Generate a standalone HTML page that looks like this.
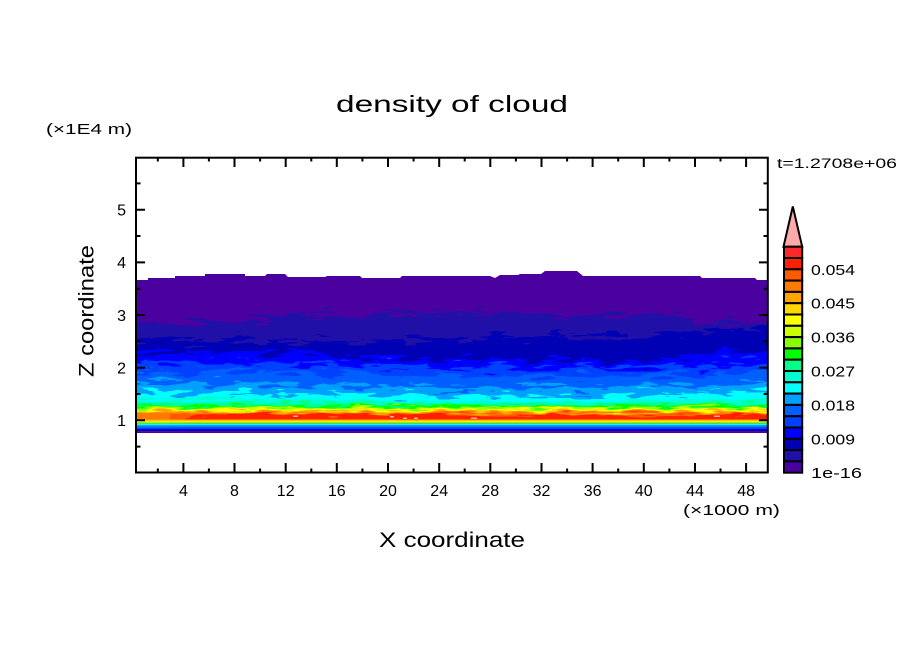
<!DOCTYPE html>
<html><head><meta charset="utf-8"><style>
html,body{margin:0;padding:0;background:#fff;width:904px;height:654px;overflow:hidden}
svg{display:block}
text{font-family:"Liberation Sans",sans-serif;fill:#000}
</style></head><body>
<svg width="904" height="654" viewBox="0 0 904 654" xmlns="http://www.w3.org/2000/svg">
<defs>
<clipPath id="env"><path d="M136,280 L148,280 L148,278 L175,278 L175,276 L205,276 L205,274 L245,274 L245,276 L265,276 L267,274 L285,274 L288,277 L325,277 L327,276 L360,276 L362,278 L400,278 L402,276 L490,276 L495,278 L500,275 L518,275 L520,274 L541,274 L545,271 L577,271 L583,276 L700,276 L702,278 L755,278 L757,280 L768,280 L768,433 L136,433 Z"/></clipPath>
<filter id="fu" filterUnits="userSpaceOnUse" x="90" y="250" width="730" height="200" color-interpolation-filters="sRGB">
<feTurbulence type="fractalNoise" baseFrequency="0.035 0.22" numOctaves="3" seed="7" result="n"/>
<feColorMatrix in="n" type="matrix" values="0 0 0 0 0.5  0 1 0 0 0  0 0 0 0 0  0 0 0 0 1" result="m"/>
<feDisplacementMap in="SourceGraphic" in2="m" scale="26" xChannelSelector="R" yChannelSelector="G"/>
</filter>
<filter id="fl" filterUnits="userSpaceOnUse" x="90" y="250" width="730" height="200" color-interpolation-filters="sRGB">
<feTurbulence type="fractalNoise" baseFrequency="0.04 0.3" numOctaves="2" seed="3" result="n"/>
<feColorMatrix in="n" type="matrix" values="0 0 0 0 0.5  0 1 0 0 0  0 0 0 0 0  0 0 0 0 1" result="m"/>
<feDisplacementMap in="SourceGraphic" in2="m" scale="12" xChannelSelector="R" yChannelSelector="G"/>
</filter>
</defs>

<g clip-path="url(#env)">
<rect x="130" y="260" width="645" height="180" fill="#4b00a0"/>
<g filter="url(#fu)">
<path fill="#2010a8" d="M100,323 L227,323 L250,320 L275,316 L290,315 L400,315 L402,312 L500,312 L550,314 L560,315 L680,315 L690,318 L700,323 L800,323 V440 H100Z"/>
<path fill="#0000b4" d="M100,339 L230,340 L260,343 L300,342 L350,341 L450,339 L520,337 L600,336 L650,336 L700,332 L720,330 L800,330 V440 H100Z"/>
<path fill="#0000ff" d="M100,353 L230,353 L300,351 L340,358 L450,360 L600,360 L650,361 L700,355 L740,351 L800,351 V440 H100Z"/>
<path fill="#0040ff" d="M100,362 L300,364 L450,367 L600,368 L700,366 L800,360 V440 H100Z"/>
<path fill="#0060ff" d="M100,371 L300,373 L450,376 L600,377 L700,375 L800,370 V440 H100Z"/>
<path fill="#00a0ff" d="M100,382 L300,385 L450,388 L600,388 L700,385 L800,380 V440 H100Z"/>
<path fill="#00ffff" d="M100,392 L300,394 L450,396 L600,396 L700,393 L800,389 V440 H100Z"/>
</g>
<g filter="url(#fl)">
<path fill="#00ffd0" d="M100,399 L300,399 L450,401 L600,400 L700,399 L800,397 V440 H100Z"/>
<path fill="#00ff88" d="M100,403 L300,403 L450,404 L600,403 L700,403 L800,402 V440 H100Z"/>
<path fill="#00ff00" d="M100,405.5 L800,405.5 V440 H100Z"/>
<path fill="#88ff00" d="M100,407 L800,407 V440 H100Z"/>
<path fill="#ccff00" d="M100,408.5 L800,408.5 V440 H100Z"/>
<path fill="#ffff00" d="M100,409.5 L800,409.5 V440 H100Z"/>
<path fill="#ffd700" d="M100,410.5 L800,410.5 V440 H100Z"/>
<path fill="#ffa500" d="M100,411.5 L800,411.5 V440 H100Z"/>
<path fill="#ff7a00" d="M100,412.5 L800,412.5 V440 H100Z"/>
<path fill="#ff5a00" d="M170,414 L800,413.5 V440 H170Z"/>
<path fill="#ff2000" d="M185,417 L200,414.5 L330,414.5 L345,416 L360,414.5 L470,414.5 L490,417 L530,416 L545,414 L610,414.5 L640,416.5 L690,416 L705,414 L800,414 V440 H185 Z"/>
</g>
<rect x="130" y="419.5" width="645" height="1" fill="#ffa500"/>
<rect x="130" y="420.5" width="645" height="1" fill="#ffd700"/>
<rect x="130" y="421.5" width="645" height="0.8" fill="#ffff00"/>
<rect x="130" y="422.3" width="645" height="0.9" fill="#88ff00"/>
<rect x="130" y="423.2" width="645" height="0.8" fill="#00ff88"/>
<rect x="130" y="424" width="645" height="1.2" fill="#00ffff"/>
<rect x="130" y="425.2" width="645" height="1.3" fill="#00a0ff"/>
<rect x="130" y="426.5" width="645" height="1.3" fill="#0060ff"/>
<rect x="130" y="427.8" width="645" height="1.2" fill="#0040ff"/>
<rect x="130" y="429" width="645" height="1" fill="#0000ff"/>
<rect x="130" y="430" width="645" height="1.2" fill="#0000b4"/>
<rect x="130" y="431.2" width="645" height="3" fill="#4b00a0"/>
<g fill="#ffaaaa">
<rect x="293" y="415.5" width="5" height="1.5"/>
<rect x="390" y="416" width="4" height="1.5"/>
<rect x="403" y="417.5" width="4" height="1.5"/>
<rect x="414" y="417.5" width="4" height="1.5"/>
<rect x="471" y="417.5" width="6" height="1.5"/>
<rect x="714" y="415.5" width="6" height="1.5"/>
</g>
</g>

<!-- frame -->
<rect x="136" y="157.7" width="631.8" height="314.8" fill="none" stroke="#000" stroke-width="2"/>
<g stroke="#000" stroke-width="2">
<!-- bottom major -->
<path d="M183.4,473V463 M234.5,473V463 M285.7,473V463 M336.8,473V463 M388,473V463 M439.2,473V463 M490.3,473V463 M541.5,473V463 M592.6,473V463 M643.8,473V463 M695,473V463 M746.1,473V463"/>
<path d="M157.8,473V468.5 M208.9,473V468.5 M260.1,473V468.5 M311.3,473V468.5 M362.4,473V468.5 M413.6,473V468.5 M464.7,473V468.5 M515.9,473V468.5 M567.1,473V468.5 M618.2,473V468.5 M669.4,473V468.5 M720.5,473V468.5"/>
<!-- top -->
<path d="M183.4,157V167 M234.5,157V167 M285.7,157V167 M336.8,157V167 M388,157V167 M439.2,157V167 M490.3,157V167 M541.5,157V167 M592.6,157V167 M643.8,157V167 M695,157V167 M746.1,157V167"/>
<path d="M157.8,157V161.5 M208.9,157V161.5 M260.1,157V161.5 M311.3,157V161.5 M362.4,157V161.5 M413.6,157V161.5 M464.7,157V161.5 M515.9,157V161.5 M567.1,157V161.5 M618.2,157V161.5 M669.4,157V161.5 M720.5,157V161.5"/>
<!-- left -->
<path d="M136,420.3H145 M136,367.7H145 M136,315H145 M136,262.4H145 M136,209.7H145"/>
<path d="M136,446.6H140.5 M136,394H140.5 M136,341.3H140.5 M136,288.7H140.5 M136,236H140.5 M136,183.4H140.5"/>
<!-- right -->
<path d="M768,420.3H759 M768,367.7H759 M768,315H759 M768,262.4H759 M768,209.7H759"/>
<path d="M768,446.6H763.5 M768,394H763.5 M768,341.3H763.5 M768,288.7H763.5 M768,236H763.5 M768,183.4H763.5"/>
</g>

<!-- texts -->
<text x="336" y="112" font-size="23" textLength="232" lengthAdjust="spacingAndGlyphs">density of cloud</text>
<text x="46" y="134" font-size="15" textLength="86" lengthAdjust="spacingAndGlyphs">(×1E4 m)</text>
<g font-size="16" text-anchor="end">
<text x="126" y="426">1</text>
<text x="126" y="373.5">2</text>
<text x="126" y="320.8">3</text>
<text x="126" y="268.2">4</text>
<text x="126" y="215.5">5</text>
</g>
<g font-size="16" text-anchor="middle">
<text x="183.4" y="496">4</text>
<text x="234.5" y="496">8</text>
<text x="285.7" y="496">12</text>
<text x="336.8" y="496">16</text>
<text x="388" y="496">20</text>
<text x="439.2" y="496">24</text>
<text x="490.3" y="496">28</text>
<text x="541.5" y="496">32</text>
<text x="592.6" y="496">36</text>
<text x="643.8" y="496">40</text>
<text x="695" y="496">44</text>
<text x="746.1" y="496">48</text>
</g>
<text x="683" y="515" font-size="15" textLength="97" lengthAdjust="spacingAndGlyphs">(×1000 m)</text>
<text x="379" y="547" font-size="21" textLength="146" lengthAdjust="spacingAndGlyphs">X coordinate</text>
<text transform="translate(93.5,377) rotate(-90)" x="0" y="0" font-size="21" textLength="132" lengthAdjust="spacingAndGlyphs">Z coordinate</text>
<text x="777" y="168" font-size="13.5" textLength="120" lengthAdjust="spacingAndGlyphs">t=1.2708e+06</text>

<!-- colorbar -->
<path d="M783.5,246.7 L792.8,206.5 L802.2,246.7 Z" fill="#ffaaaa" stroke="#000" stroke-width="2" stroke-linejoin="miter"/>
<g stroke="#000" stroke-width="2">
<rect x="784" y="246.7" width="18.2" height="11.3" fill="#ff2828"/>
<rect x="784" y="258" width="18.2" height="11.3" fill="#ff2000"/>
<rect x="784" y="269.3" width="18.2" height="11.3" fill="#ff5a00"/>
<rect x="784" y="280.6" width="18.2" height="11.3" fill="#ff7a00"/>
<rect x="784" y="291.9" width="18.2" height="11.3" fill="#ffa500"/>
<rect x="784" y="303.2" width="18.2" height="11.3" fill="#ffd700"/>
<rect x="784" y="314.5" width="18.2" height="11.3" fill="#ffff00"/>
<rect x="784" y="325.8" width="18.2" height="11.3" fill="#ccff00"/>
<rect x="784" y="337.1" width="18.2" height="11.3" fill="#88ff00"/>
<rect x="784" y="348.4" width="18.2" height="11.3" fill="#00ff00"/>
<rect x="784" y="359.7" width="18.2" height="11.3" fill="#00ff88"/>
<rect x="784" y="371" width="18.2" height="11.3" fill="#00ffd0"/>
<rect x="784" y="382.3" width="18.2" height="11.3" fill="#00ffff"/>
<rect x="784" y="393.6" width="18.2" height="11.3" fill="#00a0ff"/>
<rect x="784" y="404.9" width="18.2" height="11.3" fill="#0060ff"/>
<rect x="784" y="416.2" width="18.2" height="11.3" fill="#0040ff"/>
<rect x="784" y="427.5" width="18.2" height="11.3" fill="#0000ff"/>
<rect x="784" y="438.8" width="18.2" height="11.3" fill="#0000b4"/>
<rect x="784" y="450.1" width="18.2" height="11.3" fill="#2010a8"/>
<rect x="784" y="461.4" width="18.2" height="11.3" fill="#4b00a0"/>
</g>
<g font-size="15">
<text x="811" y="274.8" textLength="44" lengthAdjust="spacingAndGlyphs">0.054</text>
<text x="811" y="308.7" textLength="44" lengthAdjust="spacingAndGlyphs">0.045</text>
<text x="811" y="342.6" textLength="44" lengthAdjust="spacingAndGlyphs">0.036</text>
<text x="811" y="376.5" textLength="44" lengthAdjust="spacingAndGlyphs">0.027</text>
<text x="811" y="410.4" textLength="44" lengthAdjust="spacingAndGlyphs">0.018</text>
<text x="811" y="444.3" textLength="44" lengthAdjust="spacingAndGlyphs">0.009</text>
<text x="811" y="478.2" textLength="51" lengthAdjust="spacingAndGlyphs">1e-16</text>
</g>
</svg>
</body></html>
